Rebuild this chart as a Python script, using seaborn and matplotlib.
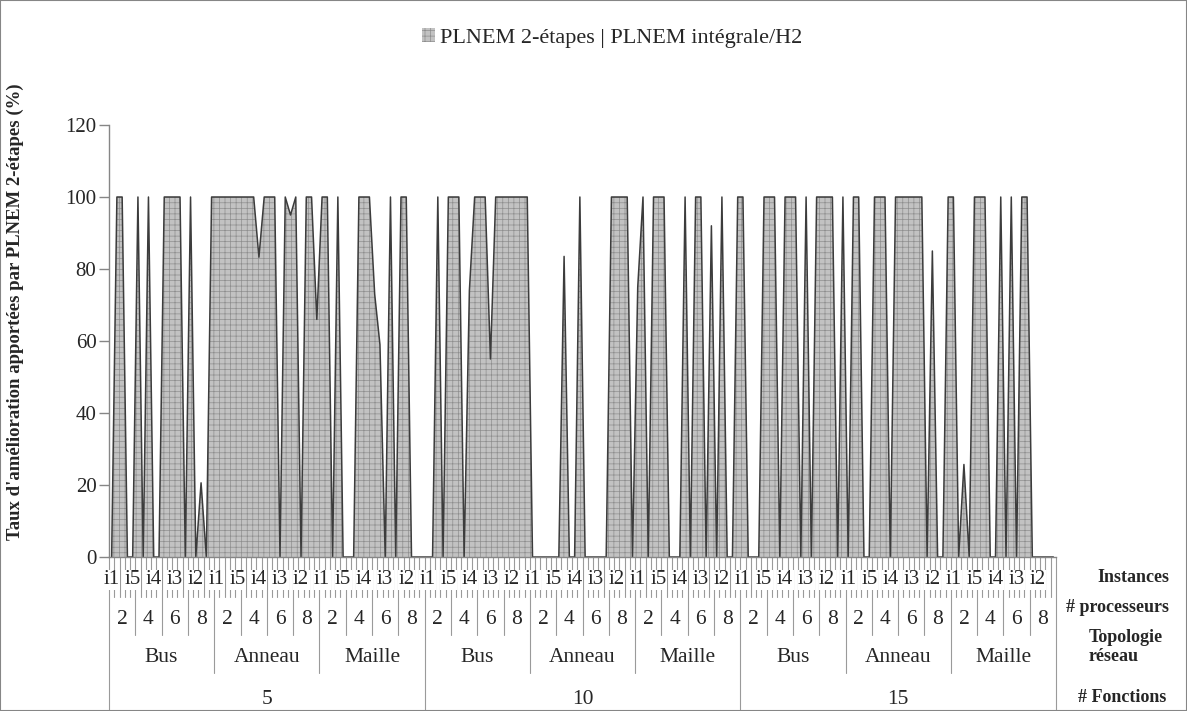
import itertools
import numpy as np
import pandas as pd
import seaborn as sns
import matplotlib
matplotlib.use("Agg")
import matplotlib.pyplot as plt
from matplotlib.patches import Rectangle
from matplotlib.transforms import blended_transform_factory

# category levels (outer -> inner)
fonctions = ["5", "10", "15"]
topologies = ["Bus", "Anneau", "Maille"]
processeurs = ["2", "4", "6", "8"]
instances = ["i1", "i2", "i3", "i4", "i5"]

# improvement rate (%), one value per instance, grouped by # fonctions
taux_f5 = [0, 100, 100, 0, 0, 100, 0, 100, 0, 0, 100, 100, 100, 100, 0, 100, 0, 20.6, 0, 100,
           100, 100, 100, 100, 100, 100, 100, 100, 83.3, 100, 100, 100, 0, 100, 95, 100, 0, 100, 100, 66,
           100, 100, 0, 100, 0, 0, 0, 100, 100, 100, 73, 59, 0, 100, 0, 100, 100, 0, 0, 0]
taux_f10 = [0, 0, 100, 0, 100, 100, 100, 0, 74, 100, 100, 100, 55, 100, 100, 100, 100, 100, 100, 100,
            0, 0, 0, 0, 0, 0, 83.5, 0, 0, 100, 0, 0, 0, 0, 0, 100, 100, 100, 100, 0,
            75, 100, 0, 100, 100, 100, 0, 0, 0, 100, 0, 100, 100, 0, 92, 0, 100, 0, 0, 100]
taux_f15 = [100, 0, 0, 0, 100, 100, 100, 0, 100, 100, 100, 0, 100, 0, 100, 100, 100, 100, 0, 100,
            0, 100, 100, 0, 0, 100, 100, 100, 0, 100, 100, 100, 100, 100, 100, 0, 85, 0, 0, 100,
            100, 0, 25.7, 0, 100, 100, 100, 0, 0, 100, 0, 100, 0, 100, 100, 0, 0, 0, 0, 0]

legend_label = "PLNEM 2-étapes | PLNEM intégrale/H2"
y_label = "Taux d'amélioration apportées par PLNEM 2-étapes (%)"
row_titles = ["Instances", "# processeurs", "Topologie\nréseau", "# Fonctions"]

df = pd.DataFrame(list(itertools.product(fonctions, topologies, processeurs, instances)),
                  columns=["fonctions", "topologie", "processeurs", "instance"])
df["taux"] = taux_f5 + taux_f10 + taux_f15
df["pos"] = np.arange(len(df))

sns.set_style("white")
plt.rcParams["font.family"] = ["Liberation Serif", "DejaVu Serif"]
plt.rcParams["hatch.linewidth"] = 0.5
plt.rcParams["hatch.color"] = "#8e8e8e"

W, H = 1187, 711
fig = plt.figure(figsize=(W / 100, H / 100), dpi=100)
ax = fig.add_axes([109 / W, 1 - 557 / H, (1056 - 109) / W, (557 - 125) / H])

# area with grid pattern + dark outline
ax.fill_between(df["pos"], df["taux"], 0, facecolor="#c2c2c2", edgecolor="#8e8e8e",
                hatch="+++", linewidth=0, label=legend_label)
sns.lineplot(data=df, x="pos", y="taux", ax=ax, color="#3c3c3c", linewidth=1.1, legend=False)

ax.set_xlim(-0.5, len(df) - 0.5)
ax.set_ylim(0, 120)
ax.set_yticks(range(0, 121, 20))
ax.set_xticks([])
ax.set_xlabel("")
ax.set_ylabel("")
for s in ["top", "right"]:
    ax.spines[s].set_visible(False)
for s in ["left", "bottom"]:
    ax.spines[s].set_color("#868686")
    ax.spines[s].set_linewidth(1)
ax.tick_params(axis="y", left=True, length=7, width=1, color="#868686", pad=2, labelsize=15)

# multi-level category axis
trans = blended_transform_factory(ax.transData, fig.transFigure)
fy = lambda py: 1 - py / H
n = len(df)
for b in range(n + 1):
    x = b - 0.5
    if b % 60 == 0:
        bottom = 711
    elif b % 20 == 0:
        bottom = 673
    elif b % 5 == 0:
        bottom = 635
    else:
        bottom = 597
    ax.plot([x, x], [fy(557), fy(bottom)], transform=trans, color="#9a9a9a",
            lw=0.8, clip_on=False)

for k in range(0, n, 4):
    ax.text(k, fy(580), df["instance"][k], transform=trans, ha="center", va="center",
            fontsize=15, bbox=dict(facecolor="white", edgecolor="none", pad=0.3))
for g in range(0, n, 5):
    ax.text(g + 2, fy(620), df["processeurs"][g], transform=trans, ha="center",
            va="center", fontsize=15.5)
for g in range(0, n, 20):
    ax.text(g + 9.5, fy(658), df["topologie"][g], transform=trans, ha="center",
            va="center", fontsize=15.5)
for g in range(0, n, 60):
    ax.text(g + 29.5, fy(699), df["fonctions"][g], transform=trans, ha="center",
            va="center", fontsize=15.5)

# row titles on the right
fig.text(1133 / W, fy(577), row_titles[0], ha="center", va="center", fontsize=13, fontweight="bold")
fig.text(1117 / W, fy(608), row_titles[1], ha="center", va="center", fontsize=13, fontweight="bold")
fig.text(1089 / W, fy(647), row_titles[2], ha="left", va="center", fontsize=13,
         fontweight="bold", linespacing=1.1)
fig.text(1122 / W, fy(698), row_titles[3], ha="center", va="center", fontsize=13, fontweight="bold")

fig.text(15 / W, fy(312), y_label, rotation=90, ha="center", va="center",
         fontsize=13.5, fontweight="bold")

fig.legend(loc="center", bbox_to_anchor=(612 / W, fy(38)), frameon=False, fontsize=16,
           handlelength=0.6, handleheight=0.6, handletextpad=0.2)

fig.patches.append(Rectangle((0, 0), 1, 1, transform=fig.transFigure, fill=False,
                             edgecolor="#868686", linewidth=1.5))

fig.savefig("out.png", dpi=100)
